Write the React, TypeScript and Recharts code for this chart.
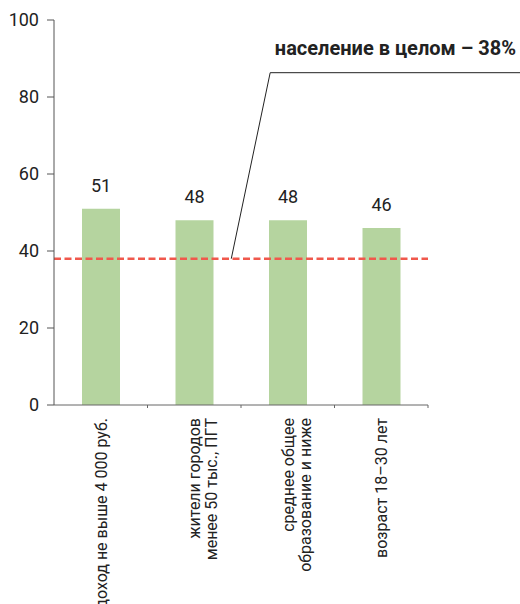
import { BarChart, Bar, XAxis, YAxis, ReferenceLine, LabelList } from "recharts";

const categories = [
  "доход не выше 4 000 руб.",
  "жители городов\nменее 50 тыс., ПГТ",
  "среднее общее\nобразование и ниже",
  "возраст 18–30 лет",
];
const shares = [51, 48, 48, 46];
const yTicks = [0, 20, 40, 60, 80, 100];
const populationShare = 38;
const calloutText = "население в целом – 38%";

const rows = categories.map((name, i) => ({ name, value: shares[i] }));

const FONT = "Roboto, 'Open Sans', sans-serif";

function CategoryTick({ x, y, payload }: any) {
  const lines = String(payload.value).split("\n");
  const half = payload.offset ?? 0;
  return (
    <g>
      <line x1={x + half} x2={x + half} y1={y - 13} y2={y - 10} stroke="#666" />
      <text
        transform={`translate(${x},${y}) rotate(-90)`}
        textAnchor="end"
        fontSize={16}
        fill="#222"
        fontFamily={FONT}
      >
        {lines.map((l, i) => (
          <tspan key={i} x={0} dy={i === 0 ? 6 : 17}>
            {l}
          </tspan>
        ))}
      </text>
    </g>
  );
}

function Callout({ viewBox }: any) {
  if (!viewBox) return null;
  const { x, y, width } = viewBox;
  const bx = x + width * 0.474;
  const tx = x + width * 0.578;
  const ty = y - 186;
  return (
    <g>
      <polyline points={`${bx},${y} ${tx},${ty} 520,${ty}`} fill="none" stroke="#222" strokeWidth={1} />
      <text x={516} y={ty - 18} textAnchor="end" fontSize={20} fontWeight="bold" fill="#222" fontFamily={FONT}>
        {calloutText}
      </text>
    </g>
  );
}

export default function App() {
  return (
    <div style={{ position: "absolute", left: 0, top: 0, width: 520, height: 604, overflow: "hidden", background: "#fff" }}>
      <BarChart width={520} height={604} data={rows} margin={{ top: 20, right: 92, bottom: 0, left: 0 }}>
        <XAxis
          dataKey="name"
          height={199}
          interval={0}
          tickLine={false}
          tickSize={0}
          tickMargin={13}
          stroke="#666"
          tick={<CategoryTick />}
        />
        <YAxis
          width={54}
          domain={[0, 100]}
          ticks={yTicks}
          tickSize={7}
          tickMargin={8}
          stroke="#555"
          tick={{ fill: "#222", fontSize: 18, fontFamily: FONT }}
        />
        <Bar dataKey="value" fill="#b5d49f" barSize={38} isAnimationActive={false}>
          <LabelList dataKey="value" position="top" offset={17} fill="#222" fontSize={18} fontFamily={FONT} />
        </Bar>
        <ReferenceLine
          y={populationShare}
          stroke="#f0584c"
          strokeWidth={2.5}
          strokeDasharray="7 3.5"
          label={<Callout />}
        />
      </BarChart>
    </div>
  );
}
